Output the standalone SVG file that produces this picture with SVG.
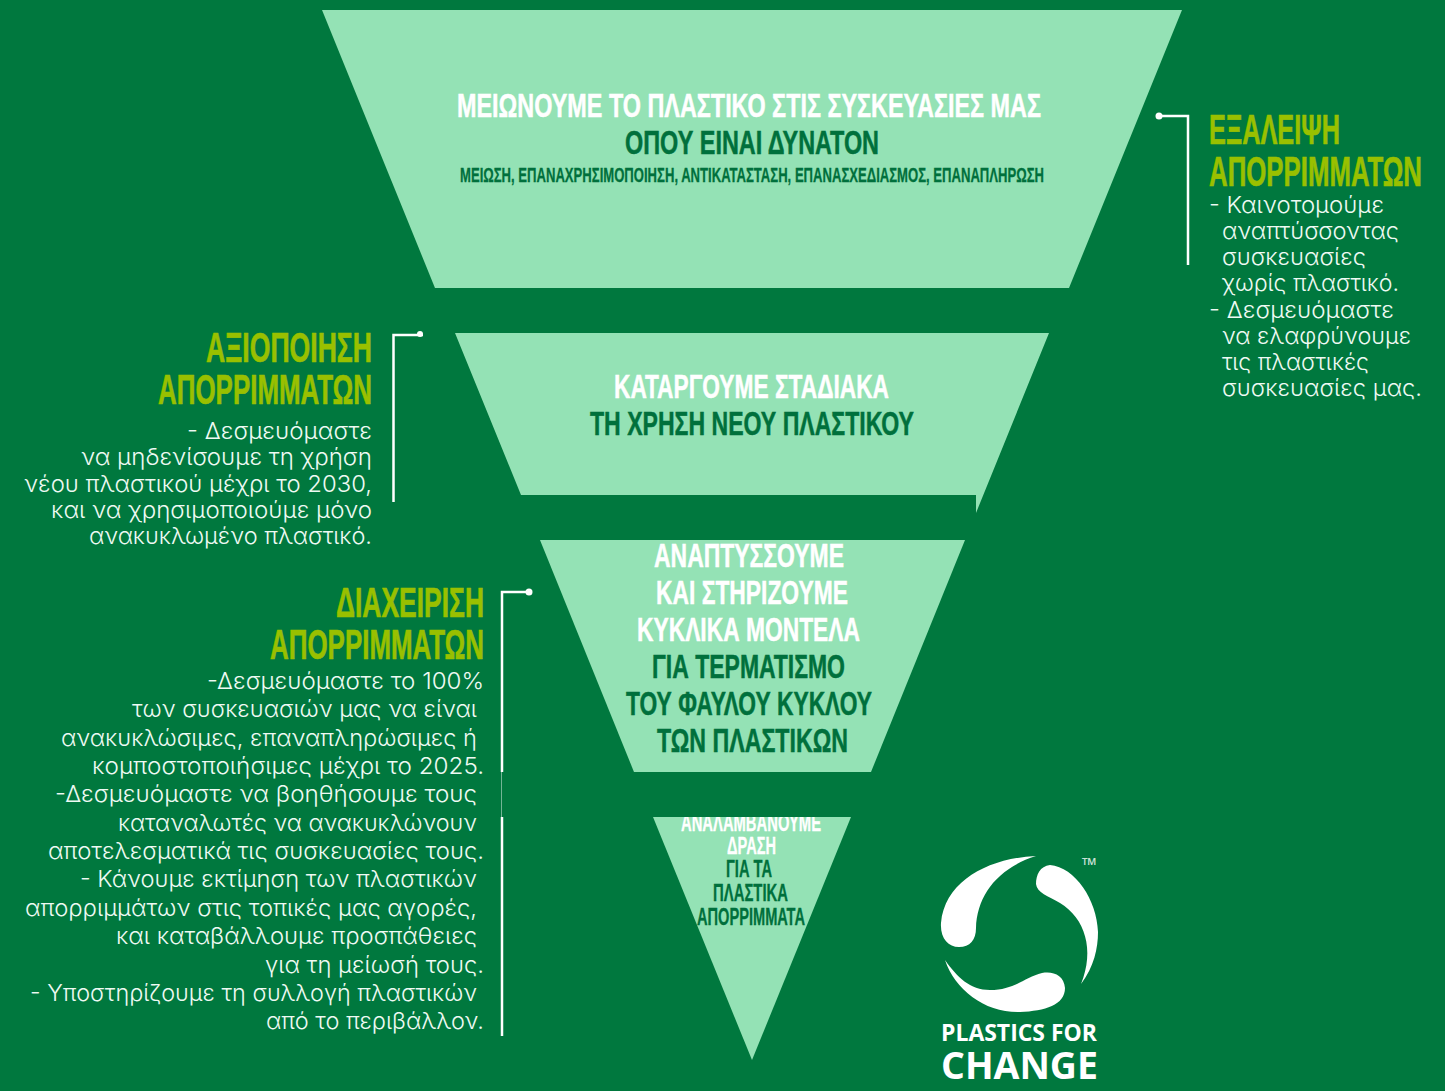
<svg xmlns="http://www.w3.org/2000/svg" width="1445" height="1091" viewBox="0 0 1445 1091">
<defs>
<style>
.shape{fill:#94e2b5}
.h{font-family:"Liberation Sans",Arial,sans-serif;font-weight:700;font-size:34px;stroke-width:.5px}
.w{fill:#fff;stroke:#fff}
.d{fill:#00703c;stroke:#00703c}
.s{font-size:21px;stroke-width:.3px}
.t{font-size:23px;stroke-width:.3px}
.head{font-family:"Liberation Sans",Arial,sans-serif;font-weight:700;font-size:42px;fill:#99c000;stroke:#99c000;stroke-width:.7px}
.b{font-family:Inter,"Open Sans",sans-serif;font-weight:300;font-size:23px;fill:#eefaf3}
.c{fill:none;stroke:#fff;stroke-width:2.5}
.logo{fill:#fff}
.lt{font-family:"Open Sans","Noto Sans",sans-serif;font-weight:700;fill:#fff}
</style>
<clipPath id="triClip"><rect x="640" y="817" width="220" height="250"/></clipPath>
</defs>
<rect width="1445" height="1091" fill="#00783e"/>
<g id="connectors">
<path class="c" d="M1159 116H1188V265"/><circle cx="1159" cy="116" r="3.500" fill="#fff"/>
<path class="c" d="M423 335H393.500V502"/><circle cx="420" cy="334" r="3" fill="#fff"/>
<path class="c" d="M529 592H502V772"/><circle cx="529" cy="592" r="3.500" fill="#fff"/>
<path d="M501.500 772V817" stroke="#fff" stroke-opacity=".45" stroke-width="1" fill="none"/>
<path class="c" d="M502 817V1036"/>
</g>
<g id="level-1">
<polygon class="shape" points="322,10 1182,10 1069,288 435,288"/>
<text class="h w" x="457" y="117" textLength="584" lengthAdjust="spacingAndGlyphs">ΜΕΙΩΝΟΥΜΕ ΤΟ ΠΛΑΣΤΙΚΟ ΣΤΙΣ ΣΥΣΚΕΥΑΣΙΕΣ ΜΑΣ</text>
<text class="h d" x="625" y="154" textLength="254" lengthAdjust="spacingAndGlyphs">ΟΠΟΥ ΕΙΝΑΙ ΔΥΝΑΤΟΝ</text>
<text class="h d s" x="460" y="181.500" textLength="584" lengthAdjust="spacingAndGlyphs">ΜΕΙΩΣΗ, ΕΠΑΝΑΧΡΗΣΙΜΟΠΟΙΗΣΗ, ΑΝΤΙΚΑΤΑΣΤΑΣΗ, ΕΠΑΝΑΣΧΕΔΙΑΣΜΟΣ, ΕΠΑΝΑΠΛΗΡΩΣΗ</text>
</g>
<g id="level-2">
<polygon class="shape" points="455,333 1049,333 976,513 976,495 521,495"/>
<text class="h w" x="614" y="398" textLength="275" lengthAdjust="spacingAndGlyphs">ΚΑΤΑΡΓΟΥΜΕ ΣΤΑΔΙΑΚΑ</text>
<text class="h d" x="590" y="435" textLength="324" lengthAdjust="spacingAndGlyphs">ΤΗ ΧΡΗΣΗ ΝΕΟΥ ΠΛΑΣΤΙΚΟΥ</text>
</g>
<g id="level-3">
<polygon class="shape" points="540,540 965,540 871,772 634,772"/>
<text class="h w" x="654" y="567" textLength="190" lengthAdjust="spacingAndGlyphs">ΑΝΑΠΤΥΣΣΟΥΜΕ</text>
<text class="h w" x="656" y="604" textLength="192" lengthAdjust="spacingAndGlyphs">ΚΑΙ ΣΤΗΡΙΖΟΥΜΕ</text>
<text class="h w" x="637" y="641" textLength="223" lengthAdjust="spacingAndGlyphs">ΚΥΚΛΙΚΑ ΜΟΝΤΕΛΑ</text>
<text class="h d" x="652" y="678" textLength="193" lengthAdjust="spacingAndGlyphs">ΓΙΑ ΤΕΡΜΑΤΙΣΜΟ</text>
<text class="h d" x="626" y="715" textLength="246" lengthAdjust="spacingAndGlyphs">ΤΟΥ ΦΑΥΛΟΥ ΚΥΚΛΟΥ</text>
<text class="h d" x="657" y="752" textLength="191" lengthAdjust="spacingAndGlyphs">ΤΩΝ ΠΛΑΣΤΙΚΩΝ</text>
</g>
<g id="level-4">
<polygon class="shape" points="653,817 851,817 752,1060"/>
<text class="h w t" x="681" y="831" textLength="140" lengthAdjust="spacingAndGlyphs" clip-path="url(#triClip)">ΑΝΑΛΑΜΒΑΝΟΥΜΕ</text>
<text class="h w t" x="727" y="854" textLength="49" lengthAdjust="spacingAndGlyphs">ΔΡΑΣΗ</text>
<text class="h d t" x="726" y="877" textLength="46" lengthAdjust="spacingAndGlyphs">ΓΙΑ ΤΑ</text>
<text class="h d t" x="713" y="901" textLength="75" lengthAdjust="spacingAndGlyphs">ΠΛΑΣΤΙΚΑ</text>
<text class="h d t" x="697" y="925" textLength="108" lengthAdjust="spacingAndGlyphs">ΑΠΟΡΡΙΜΜΑΤΑ</text>
</g>
<g id="elimination">
<text class="head" x="1209" y="144" textLength="131" lengthAdjust="spacingAndGlyphs">ΕΞΑΛΕΙΨΗ</text>
<text class="head" x="1209" y="186" textLength="213" lengthAdjust="spacingAndGlyphs">ΑΠΟΡΡΙΜΜΑΤΩΝ</text>
<text class="b" x="1209" y="213" textLength="175" lengthAdjust="spacingAndGlyphs">- Καινοτομούμε</text>
<text class="b" x="1222" y="239" textLength="177" lengthAdjust="spacingAndGlyphs">αναπτύσσοντας</text>
<text class="b" x="1222" y="265" textLength="144" lengthAdjust="spacingAndGlyphs">συσκευασίες</text>
<text class="b" x="1222" y="291" textLength="177" lengthAdjust="spacingAndGlyphs">χωρίς πλαστικό.</text>
<text class="b" x="1209" y="318" textLength="185" lengthAdjust="spacingAndGlyphs">- Δεσμευόμαστε</text>
<text class="b" x="1222" y="344" textLength="189" lengthAdjust="spacingAndGlyphs">να ελαφρύνουμε</text>
<text class="b" x="1222" y="370" textLength="147" lengthAdjust="spacingAndGlyphs">τις πλαστικές</text>
<text class="b" x="1222" y="396" textLength="200" lengthAdjust="spacingAndGlyphs">συσκευασίες μας.</text>
</g>
<g id="valorisation">
<text class="head" x="206" y="362" textLength="166" lengthAdjust="spacingAndGlyphs">ΑΞΙΟΠΟΙΗΣΗ</text>
<text class="head" x="158" y="404" textLength="214" lengthAdjust="spacingAndGlyphs">ΑΠΟΡΡΙΜΜΑΤΩΝ</text>
<text class="b" x="187" y="439" textLength="185" lengthAdjust="spacingAndGlyphs">- Δεσμευόμαστε</text>
<text class="b" x="81" y="465" textLength="291" lengthAdjust="spacingAndGlyphs">να μηδενίσουμε τη χρήση</text>
<text class="b" x="24" y="492" textLength="348" lengthAdjust="spacingAndGlyphs">νέου πλαστικού μέχρι το 2030,</text>
<text class="b" x="51" y="518" textLength="321" lengthAdjust="spacingAndGlyphs">και να χρησιμοποιούμε μόνο</text>
<text class="b" x="89" y="544" textLength="283" lengthAdjust="spacingAndGlyphs">ανακυκλωμένο πλαστικό.</text>
</g>
<g id="management">
<text class="head" x="336" y="617" textLength="148" lengthAdjust="spacingAndGlyphs">ΔΙΑΧΕΙΡΙΣΗ</text>
<text class="head" x="270" y="659" textLength="214" lengthAdjust="spacingAndGlyphs">ΑΠΟΡΡΙΜΜΑΤΩΝ</text>
<text class="b" x="207" y="689" textLength="277" lengthAdjust="spacingAndGlyphs">-Δεσμευόμαστε το 100%</text>
<text class="b" x="132" y="717" textLength="345" lengthAdjust="spacingAndGlyphs">των συσκευασιών μας να είναι</text>
<text class="b" x="61" y="746" textLength="416" lengthAdjust="spacingAndGlyphs">ανακυκλώσιμες, επαναπληρώσιμες ή</text>
<text class="b" x="92" y="774" textLength="392" lengthAdjust="spacingAndGlyphs">κομποστοποιήσιμες μέχρι το 2025.</text>
<text class="b" x="55" y="802" textLength="422" lengthAdjust="spacingAndGlyphs">-Δεσμευόμαστε να βοηθήσουμε τους</text>
<text class="b" x="118" y="831" textLength="359" lengthAdjust="spacingAndGlyphs">καταναλωτές να ανακυκλώνουν</text>
<text class="b" x="48" y="859" textLength="436" lengthAdjust="spacingAndGlyphs">αποτελεσματικά τις συσκευασίες τους.</text>
<text class="b" x="80" y="887" textLength="397" lengthAdjust="spacingAndGlyphs">- Κάνουμε εκτίμηση των πλαστικών</text>
<text class="b" x="25" y="916" textLength="452" lengthAdjust="spacingAndGlyphs">απορριμμάτων στις τοπικές μας αγορές,</text>
<text class="b" x="116" y="944" textLength="361" lengthAdjust="spacingAndGlyphs">και καταβάλλουμε προσπάθειες</text>
<text class="b" x="265" y="973" textLength="219" lengthAdjust="spacingAndGlyphs">για τη μείωσή τους.</text>
<text class="b" x="30" y="1001" textLength="447" lengthAdjust="spacingAndGlyphs">- Υποστηρίζουμε τη συλλογή πλαστικών</text>
<text class="b" x="266" y="1029" textLength="218" lengthAdjust="spacingAndGlyphs">από το περιβάλλον.</text>
</g>
<g id="logo">
<path class="logo" d="M1036 856C990 858 945 880 941 923C940 938 948 947 959 947C970 947 976 940 976 928C977 895 998 868 1036 856Z"/>
<path class="logo" d="M1050 865C1040 866 1036 875 1036 884C1037 893 1048 896 1060 903C1085 918 1095 950 1081 984C1094 967 1098 948 1098 932C1097 900 1075 867 1050 865Z"/>
<path class="logo" d="M945 960C955 990 985 1013 1020 1012C1045 1011 1065 1005 1065 988C1064 975 1053 971 1042 973C1025 977 1015 990 990 990C970 990 957 977 945 960Z"/>
<text x="1082" y="872" font-family="Open Sans, sans-serif" font-size="20" fill="#fff" fill-opacity=".8">™</text>
<text class="lt" x="941" y="1041" font-size="23" textLength="156" lengthAdjust="spacingAndGlyphs">PLASTICS FOR</text>
<text class="lt" x="941" y="1079" font-size="37" textLength="157" lengthAdjust="spacingAndGlyphs">CHANGE</text>
</g>
</svg>
